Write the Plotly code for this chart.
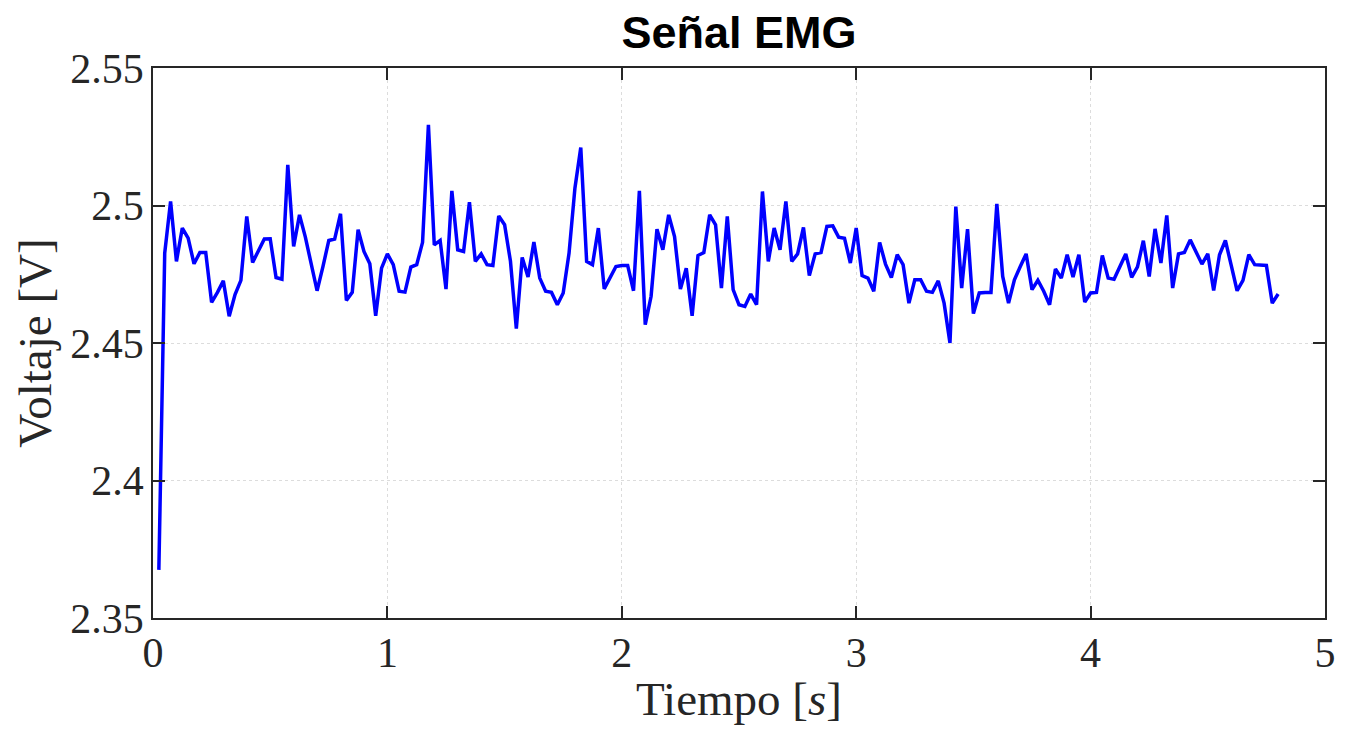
import numpy as np
import plotly.graph_objects as go

# Sampling period of the EMG record (s)
sample_period = 0.025

voltage = [
    2.3675, 2.4827, 2.5015, 2.4797, 2.4918, 2.4881, 2.4788, 2.4829, 2.4829, 2.4648,
    2.4684, 2.4726, 2.4597, 2.4676, 2.4728, 2.4960, 2.4793, 2.4833, 2.4878, 2.4879,
    2.4738, 2.4732, 2.5148, 2.4851, 2.4966, 2.4885, 2.4790, 2.4690, 2.4778, 2.4873,
    2.4878, 2.4970, 2.4655, 2.4684, 2.4912, 2.4833, 2.4788, 2.4599, 2.4772, 2.4824,
    2.4785, 2.4688, 2.4685, 2.4776, 2.4785, 2.4866, 2.5293, 2.4857, 2.4873, 2.4696,
    2.5053, 2.4839, 2.4833, 2.5012, 2.4797, 2.4824, 2.4785, 2.4782, 2.4962, 2.4930,
    2.4797, 2.4552, 2.4811, 2.4740, 2.4867, 2.4736, 2.4688, 2.4684, 2.4639, 2.4682,
    2.4827, 2.5063, 2.5211, 2.4797, 2.4785, 2.4918, 2.4697, 2.4736, 2.4778, 2.4782,
    2.4782, 2.4690, 2.5053, 2.4567, 2.4670, 2.4914, 2.4839, 2.4966, 2.4887, 2.4696,
    2.4772, 2.4599, 2.4818, 2.4829, 2.4966, 2.4930, 2.4700, 2.4960, 2.4694, 2.4639,
    2.4633, 2.4678, 2.4639, 2.5051, 2.4797, 2.4918, 2.4839, 2.5015, 2.4797, 2.4824,
    2.4920, 2.4745, 2.4824, 2.4829, 2.4924, 2.4926, 2.4885, 2.4881, 2.4791, 2.4918,
    2.4745, 2.4736, 2.4688, 2.4866, 2.4787, 2.4738, 2.4821, 2.4785, 2.4645, 2.4730,
    2.4730, 2.4688, 2.4684, 2.4726, 2.4645, 2.4500, 2.4996, 2.4700, 2.4914, 2.4607,
    2.4682, 2.4684, 2.4684, 2.5006, 2.4742, 2.4645, 2.4730, 2.4778, 2.4824, 2.4694,
    2.4728, 2.4688, 2.4639, 2.4769, 2.4736, 2.4821, 2.4740, 2.4821, 2.4649, 2.4682,
    2.4684, 2.4818, 2.4736, 2.4732, 2.4778, 2.4824, 2.4739, 2.4777, 2.4872, 2.4742,
    2.4915, 2.4791, 2.4964, 2.4700, 2.4824, 2.4829, 2.4875, 2.4833, 2.4787, 2.4824,
    2.4691, 2.4821, 2.4873, 2.4782, 2.4690, 2.4728, 2.4821, 2.4785, 2.4782, 2.4782,
    2.4645, 2.4678,
]

time = sample_period * np.arange(1, len(voltage) + 1)

x_tickvals = [0, 1, 2, 3, 4, 5]
x_ticktext = ["0", "1", "2", "3", "4", "5"]
y_tickvals = [2.35, 2.40, 2.45, 2.50, 2.55]
y_ticktext = ["2.35", "2.4", "2.45", "2.5", "2.55"]

title_text = "Señal EMG"
x_label = "Tiempo [<i>s</i>]"
y_label = "Voltaje [V]"

serif = "Liberation Serif, Times New Roman, serif"
axis_color = "#262626"

fig = go.Figure()
fig.add_trace(go.Scatter(
    x=time, y=voltage, mode="lines",
    line=dict(color="#0000FF", width=3.5),
    showlegend=False,
))

common_axis = dict(
    showline=True, linecolor=axis_color, linewidth=1.5, mirror="ticks",
    ticks="inside", ticklen=12, tickwidth=1.5, tickcolor=axis_color,
    showgrid=True, gridcolor="#dcdcdc", griddash="dot", gridwidth=1,
    zeroline=False, automargin=False,
    tickfont=dict(family=serif, size=42, color=axis_color),
)

fig.update_xaxes(
    range=[0, 5], tickvals=x_tickvals, ticktext=x_ticktext,
    ticklabelstandoff=-3,
    title=dict(text=x_label, font=dict(family=serif, size=47, color=axis_color), standoff=7),
    **common_axis,
)
fig.update_yaxes(
    range=[2.35, 2.55], tickvals=y_tickvals, ticktext=y_ticktext,
    ticklabelstandoff=-1,
    title=dict(text=y_label, font=dict(family=serif, size=47, color=axis_color), standoff=4),
    **common_axis,
)

fig.update_layout(
    width=1348, height=733,
    margin=dict(l=153, r=23, t=68, b=115),
    paper_bgcolor="white", plot_bgcolor="white",
    title=dict(
        text="<b>" + title_text + "</b>",
        x=(153 + 1325) / 2 / 1348, xanchor="center", xref="container",
        y=0.9565, yanchor="middle", yref="container",
        font=dict(family="Liberation Sans, Arial, sans-serif", size=45, color="black"),
    ),
)

fig.write_html(
    "out.html",
    config={"displayModeBar": False},
    post_script="document.body.style.margin='0';",
)
